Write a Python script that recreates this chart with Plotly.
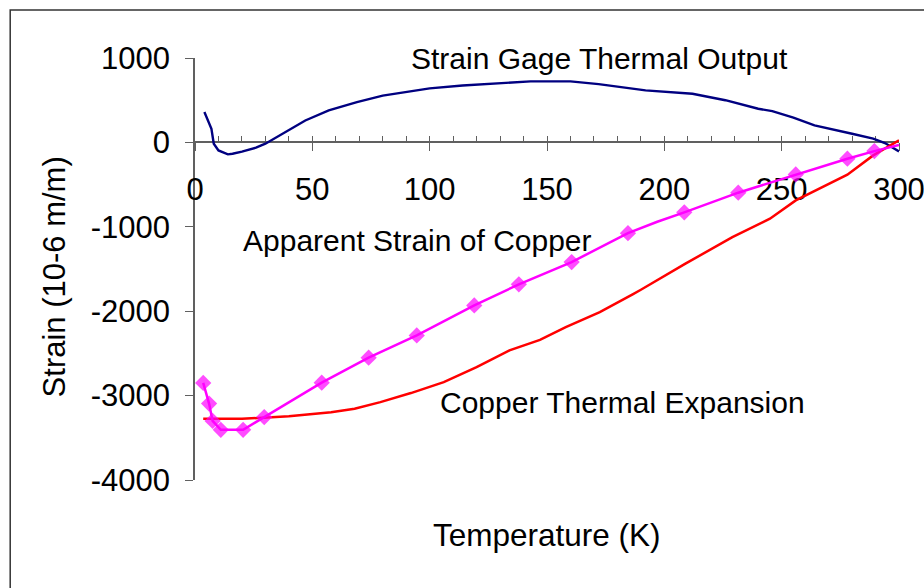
import plotly.graph_objects as go

# ---------------- data ----------------
gage_T = [4, 7, 8, 10, 14, 16, 20, 26, 30, 36, 47, 57, 69, 80, 100, 114, 130, 143,
          160, 172, 192, 212, 226, 240, 246, 255, 264, 274, 280, 289, 294, 300]
gage_strain = [360, 160, -15, -95, -142, -135, -110, -63, -15, 83, 260, 379, 478, 555,
               640, 675, 703, 723, 723, 690, 616, 577, 500, 399, 371, 293, 201, 134,
               103, 44, -8, -107]

copper_T = [3.5, 20, 29, 40, 58, 68, 79, 92, 106, 120, 134, 147, 158, 172.5, 186.5,
            190, 209, 229, 245, 256, 278, 289, 300]
copper_strain = [-3275, -3275, -3262, -3246, -3196, -3155, -3077, -2970, -2840, -2662,
                 -2464, -2340, -2188, -2011, -1801, -1746, -1437, -1122, -904, -687,
                 -383, -154, 25]

apparent_T = [3.5, 6, 7.5, 11, 20.5, 29.5, 54, 74, 94.5, 119, 138, 160.5, 184.5, 197,
              208.5, 231.5, 256, 278, 289.5, 300]
apparent_strain = [-2850, -3095, -3300, -3405, -3405, -3255, -2847, -2551, -2287, -1931,
                   -1682, -1418, -1075, -940, -829, -596, -379, -193, -103, -30]
apparent_marked = [True, True, True, True, True, True, True, True, True, True,
                   True, True, True, False, True, True, True, True, True, False]

x_tick_vals = [0, 50, 100, 150, 200, 250, 300]
x_tick_text = ["0", "50", "100", "150", "200", "250", "300"]
y_tick_vals = [-4000, -3000, -2000, -1000, 0, 1000]
y_tick_text = ["-4000", "-3000", "-2000", "-1000", "0", "1000"]

labels = {
    "gage": ("Strain Gage Thermal Output", 172.3, 990),
    "apparent": ("Apparent Strain of Copper", 94.8, -1160),
    "copper": ("Copper Thermal Expansion", 182.0, -3080),
}

FONT = "Arial, Liberation Sans, sans-serif"
AXC = "#606060"

fig = go.Figure()
fig.add_trace(go.Scatter(x=gage_T, y=gage_strain, mode="lines",
                         line=dict(color="#000080", width=2.4), showlegend=False))
fig.add_trace(go.Scatter(x=copper_T, y=copper_strain, mode="lines",
                         line=dict(color="#FF0000", width=2.5), showlegend=False))
fig.add_trace(go.Scatter(x=apparent_T, y=apparent_strain, mode="lines+markers",
                         line=dict(color="#FF00FF", width=2.5),
                         marker=dict(symbol="diamond", color="#FF00FF",
                                     size=[12.5 if m else 0 for m in apparent_marked],
                                     line=dict(width=0)),
                         showlegend=False))
# empty trace so the tick-overlay axis exists
fig.add_trace(go.Scatter(x=[], y=[], xaxis="x2", yaxis="y", showlegend=False))

fig.update_layout(
    width=924, height=588,
    margin=dict(l=195, r=24.5, t=58, b=108, autoexpand=False),
    paper_bgcolor="white", plot_bgcolor="white",
    font=dict(family=FONT, size=31, color="black"),
    xaxis=dict(range=[0, 300], anchor="free", position=0.8, automargin=False,
               tickvals=x_tick_vals, ticktext=x_tick_text,
               ticks="outside", ticklen=8, tickcolor=AXC, tickwidth=1,
               showline=True, linecolor=AXC, linewidth=1.5,
               showgrid=False, zeroline=False, layer="below traces",
               tickfont=dict(family=FONT, size=31, color="black"),
               ticklabelstandoff=12, ticklabeloverflow="allow"),
    xaxis2=dict(range=[0, 300], overlaying="x", anchor="free", position=0.8,
                automargin=False,
                tick0=0, dtick=10, ticks="inside", ticklen=6, tickcolor=AXC,
                tickwidth=1, showticklabels=False, showline=False,
                showgrid=False, zeroline=False, layer="below traces"),
    yaxis=dict(range=[-4000, 1000], tickvals=y_tick_vals, ticktext=y_tick_text,
               automargin=False,
               ticks="outside", ticklen=8, tickcolor=AXC, tickwidth=1,
               showline=True, linecolor=AXC, linewidth=1.5,
               showgrid=False, zeroline=False, layer="below traces",
               tickfont=dict(family=FONT, size=31, color="black"),
               ticklabelstandoff=9),
)

for name, (txt, tx, ty) in labels.items():
    fig.add_annotation(x=tx, y=ty, xref="x", yref="y", text=txt, showarrow=False,
                       font=dict(family=FONT, size=30, color="black"),
                       xanchor="center", yanchor="middle")

fig.add_annotation(x=0.5, y=-0.1296, xref="paper", yref="paper",
                   text="Temperature (K)", showarrow=False,
                   font=dict(family=FONT, size=31.5, color="black"),
                   xanchor="center", yanchor="middle")
fig.add_annotation(x=-0.2, y=0.4806, xref="paper", yref="paper",
                   text="Strain (10-6 m/m)", showarrow=False, textangle=-90,
                   font=dict(family=FONT, size=31, color="black"),
                   xanchor="center", yanchor="middle")

# outer chart border (extends past the picture on the right and bottom)
fig.add_shape(type="rect", xref="paper", yref="paper",
              x0=-0.2625, x1=1.2, y0=-0.5, y1=1.1137,
              line=dict(color="#333333", width=1.5), layer="below")

fig.write_html("out.html", config={"displayModeBar": False},
               post_script="document.body.style.margin='0';"
                           "document.body.style.overflow='hidden';")
